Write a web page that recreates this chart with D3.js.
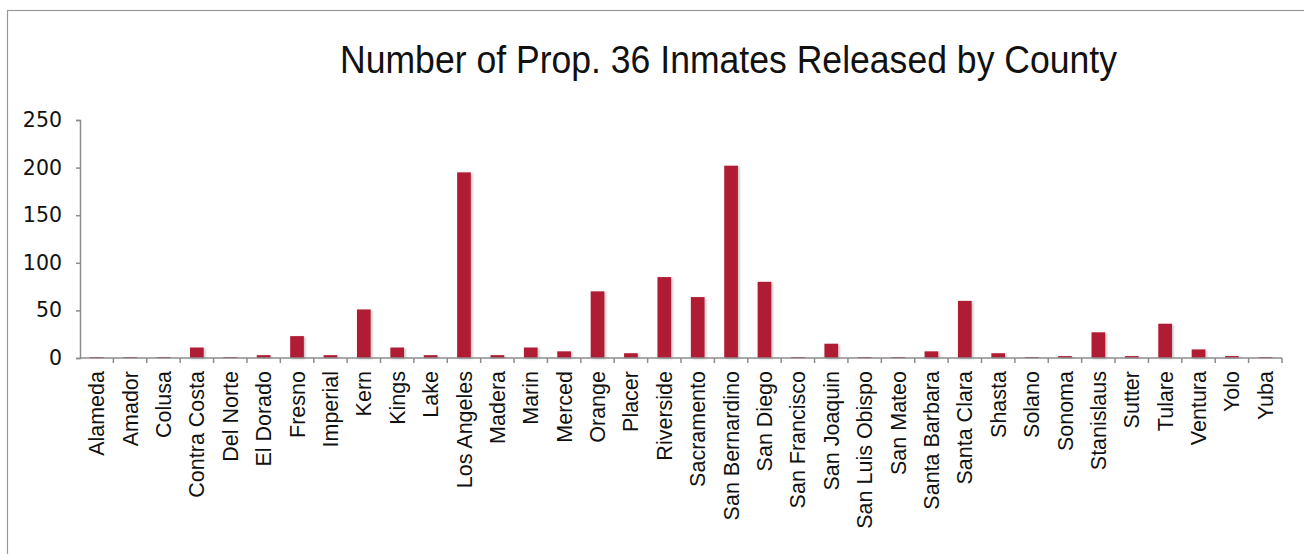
<!DOCTYPE html>
<html>
<head>
<meta charset="utf-8">
<script src="https://cdn.jsdelivr.net/npm/d3@7"></script>
<style>
  body { margin: 0; background: #fff; }
  svg { display: block; }
</style>
</head>
<body>
<div id="chart"></div>
<script>
const counties = ['Alameda', 'Amador', 'Colusa', 'Contra Costa', 'Del Norte', 'El Dorado', 'Fresno', 'Imperial', 'Kern', 'Kings',
  'Lake', 'Los Angeles', 'Madera', 'Marin', 'Merced', 'Orange', 'Placer', 'Riverside', 'Sacramento', 'San Bernardino',
  'San Diego', 'San Francisco', 'San Joaquin', 'San Luis Obispo', 'San Mateo', 'Santa Barbara', 'Santa Clara', 'Shasta',
  'Solano', 'Sonoma', 'Stanislaus', 'Sutter', 'Tulare', 'Ventura', 'Yolo', 'Yuba'];
const released = [1, 1, 1, 11, 1, 3, 23, 3, 51, 11,
  3, 195, 3, 11, 7, 70, 5, 85, 64, 202,
  80, 1, 15, 1, 1, 7, 60, 5,
  1, 2, 27, 2, 36, 9, 2, 1];
const yTicks = [0, 50, 100, 150, 200, 250];
const title = 'Number of Prop. 36 Inmates Released by County';

const W = 1304, H = 554;
const margin = {top: 120, right: 22, bottom: 196, left: 80};
const barColor = '#b11c35';
const axisColor = '#8c8c8c';

const svg = d3.select('#chart').append('svg').attr('width', W).attr('height', H);

const defs = svg.append('defs');
const shadow = defs.append('filter').attr('id', 'shadow').attr('x', '-30%').attr('y', '-10%').attr('width', '160%').attr('height', '130%');
shadow.append('feDropShadow').attr('dx', 1.5).attr('dy', 1).attr('stdDeviation', 1.2).attr('flood-color', '#000').attr('flood-opacity', 0.25);

// outer chart border (only top and left visible in the frame)
svg.append('rect').attr('x', 7.5).attr('y', 10.5).attr('width', W + 20).attr('height', H + 20)
  .attr('fill', 'none').attr('stroke', '#999').attr('stroke-width', 1.2);

svg.append('text').attr('x', 728.5).attr('y', 73).attr('text-anchor', 'middle')
  .attr('textLength', 777).attr('lengthAdjust', 'spacingAndGlyphs')
  .style('font-family', '"Liberation Sans", Arial, sans-serif').style('font-size', '38px').style('fill', '#111')
  .text(title);

const x = d3.scaleBand().domain(counties).range([margin.left, W - margin.right]).paddingInner(0.59).paddingOuter(0.295);
const y = d3.scaleLinear().domain([0, 250]).range([H - margin.bottom, margin.top]);
const xEdge = d3.scaleLinear().domain([0, counties.length]).range([margin.left, W - margin.right]);

const g = svg.append('g');

g.append('g').selectAll('rect').data(counties).join('rect')
  .attr('x', d => x(d)).attr('width', x.bandwidth())
  .attr('y', (d, i) => y(released[i])).attr('height', (d, i) => y(0) - y(released[i]))
  .attr('fill', barColor).attr('filter', 'url(#shadow)');

// y axis
const yAxis = g.append('g').attr('transform', `translate(${margin.left},0)`)
  .call(d3.axisLeft(y).tickValues(yTicks).tickSize(4).tickPadding(14));
yAxis.select('.domain').attr('stroke', axisColor).attr('stroke-width', 1.5);
yAxis.selectAll('.tick line').attr('stroke', axisColor).attr('stroke-width', 1.5);
yAxis.selectAll('.tick text').style('font-family', '"DejaVu Sans", sans-serif').style('font-size', '20.5px').style('fill', '#111');

// x axis with ticks at category boundaries
const xAxis = g.append('g').attr('transform', `translate(0,${y(0)})`);
xAxis.append('line').attr('x1', margin.left).attr('x2', W - margin.right).attr('stroke', axisColor).attr('stroke-width', 1.5);
xAxis.selectAll('.edge').data(d3.range(1, counties.length + 1)).join('line').attr('class', 'edge')
  .attr('x1', d => xEdge(d)).attr('x2', d => xEdge(d)).attr('y1', 0).attr('y2', 5)
  .attr('stroke', axisColor).attr('stroke-width', 1.5);
xAxis.selectAll('text').data(counties).join('text')
  .attr('transform', d => `translate(${x(d) + x.bandwidth() / 2},13) rotate(-90)`)
  .attr('dy', '0.35em').attr('text-anchor', 'end')
  .style('font-family', '"Liberation Sans", Arial, sans-serif').style('font-size', '21.5px').style('fill', '#111')
  .text(d => d);
</script>
</body>
</html>
